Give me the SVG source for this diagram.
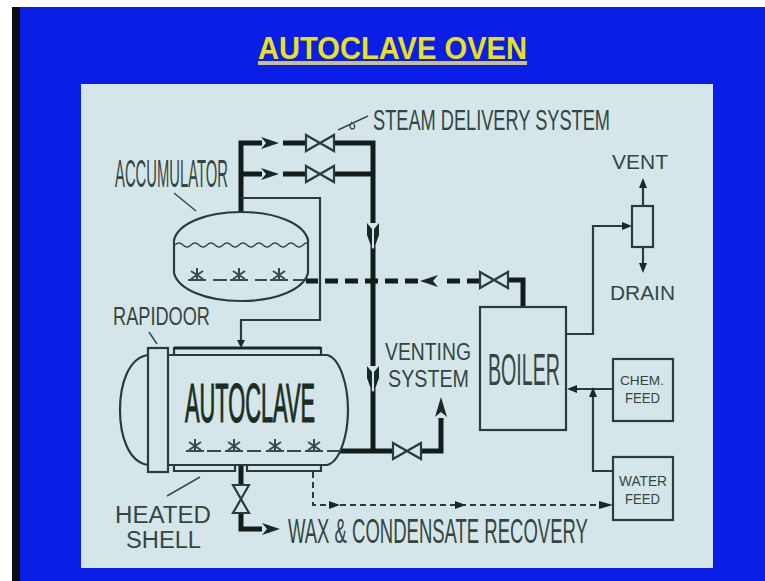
<svg xmlns="http://www.w3.org/2000/svg" width="765" height="581" viewBox="0 0 765 581">
<style>
.t{font-family:"Liberation Sans",Arial,sans-serif;fill:#34463f}
.ln{fill:none;stroke:#2c3a38;stroke-width:2.2}
.thin{fill:none;stroke:#3a4a48;stroke-width:1.5}
.thk{fill:none;stroke:#141c1a;stroke-width:5}
.dash{fill:none;stroke:#141c1a;stroke-width:5;stroke-dasharray:13 7}
.ds{fill:none;stroke:#2c3a38;stroke-width:2;stroke-dasharray:6 4}
.v{fill:#d5e6ea;stroke:#2c3a38;stroke-width:2.2}
.a{fill:#1c2826}
.sp{fill:none;stroke:#3a4a48;stroke-width:2}
</style>
<defs>
<g id="valve"><path class="v" d="M-14,-8 L14,8 L14,-8 L-14,8 Z"/></g>
<g id="star"><path class="sp" d="M-9,5 H9 M0,4 V-7 M-6,-4 L6,4 M6,-4 L-6,4"/></g>
<g id="head"><path class="a" d="M-9,-6 L9,0 L-9,6 L-4,0 Z"/></g>
<g id="vhead"><path fill="#d5e6ea" d="M-3,-12 H3 V10 L0,14 L-3,10 Z"/><path class="a" d="M-6,-12 L-1,-6 V14 L-6,0 Z M6,-12 L1,-6 V14 L6,0 Z"/></g>
</defs>
<rect width="765" height="581" fill="#fff"/>
<rect x="12" y="7" width="753" height="574" fill="#0a1ee8"/>
<rect x="12" y="7" width="8" height="574" fill="#0c0e14"/>
<rect x="81" y="84" width="632" height="484" fill="#d5e6ea"/>
<text x="258" y="59" font-size="32" font-weight="700" textLength="269" lengthAdjust="spacingAndGlyphs" style="font-family:'Liberation Sans',Arial,sans-serif;fill:#e8e020">AUTOCLAVE OVEN</text>
<rect x="258" y="61" width="269" height="4" fill="#c9c28a"/>
<g id="connectors">
<path class="thk" d="M241,212 V143 H262 M283,143 H307 M334,143 H373 V450 M241,174 H262 M283,174 H307 M334,174 H373"/>
<path class="thk" d="M340,451 H393 M421,451 H441 V418"/>
<path class="thk" d="M241,465 V485 M241,513 V529 H262"/>
<path class="thk" d="M508,280 H523 V307"/>
<path class="dash" d="M480,281 H442 M418,281 H306"/>
<path class="ln" d="M241,198 H320 V320 H241 V340"/>
<path class="ln" d="M566,334 H593 V226 H624"/>
<path class="ln" d="M643,206 V186 M643,247 V265"/>
<path class="ln" d="M613,389 H575 M613,471 H593 V396"/>
<path class="ds" d="M313,472 V505 H600"/>
<use href="#head" x="270" y="143"/><use href="#head" x="270" y="174"/>
<use href="#vhead" x="373" y="235"/><use href="#vhead" x="373" y="378"/>
<use href="#head" transform="translate(271,529)"/>
<use href="#head" transform="translate(429,281) rotate(180)"/>
<path class="a" d="M441,397 L447,417 L441,412 L435,417 Z"/>
<path class="a" d="M241,348 L237,340 H245 Z"/>
<path class="a" d="M632,226 L622,222 V230 Z"/>
<path class="a" d="M643,178 L639,188 H647 Z M643,273 L639,263 H647 Z"/>
<path class="a" d="M567,389 L577,385 V393 Z M593,387 L589,397 H597 Z"/>
<path class="a" d="M340,505 L329,501 V509 Z M466,505 L455,501 V509 Z M613,505 L599,501 V509 Z"/>
<use href="#valve" x="320" y="143"/><use href="#valve" x="320" y="174"/>
<use href="#valve" x="494" y="280"/><use href="#valve" x="407" y="451"/>
<use href="#valve" transform="translate(241,499) rotate(90)"/>
</g>
<g id="accumulator">
<path class="ln" d="M174,240 C178,224 205,212 241,212 C277,212 304,224 308,240 V273 C304,289 277,301 241,301 C205,301 178,289 174,273 Z"/>
<path class="thin" d="M175,245 q4,-4 8,0 t8,0 t8,0 t8,0 t8,0 t8,0 t8,0 t8,0 t8,0 t8,0 t8,0 t8,0 t8,0 t8,0 t8,0 t8,0 t5,0"/>
<use href="#star" x="197" y="275"/><use href="#star" x="239" y="275"/><use href="#star" x="279" y="275"/>
<path class="sp" d="M213,280 H227 M255,280 H267 M293,280 H306"/>
<text class="t" x="115" y="187" font-size="38" textLength="113" lengthAdjust="spacingAndGlyphs">ACCUMULATOR</text>
<path class="thin" d="M174,193 L196,211"/>
</g>
<g id="autoclave">
<path class="ln" d="M148,355 C128,358 120,385 120,410 C120,435 128,462 148,465 M168,355 H327 C340,358 348,385 348,410 C348,435 340,462 327,465 H168"/>
<rect class="ln" x="148" y="348" width="20" height="124"/>
<path class="ln" d="M174,355 V348 H321 V355 M174,465 V471 H235 V465 M247,465 V471 H321 V465"/>
<path d="M174,348 H321" stroke="#1c2826" stroke-width="3" fill="none"/>
<use href="#star" x="195" y="446"/><use href="#star" x="234" y="446"/><use href="#star" x="275" y="446"/><use href="#star" x="314" y="446"/>
<path class="sp" d="M207,451 H221 M247,451 H261 M287,451 H301 M327,451 H340"/>
<text font-size="55" transform="translate(185,422) scale(.404,1)" textLength="322" lengthAdjust="spacingAndGlyphs" style="font-family:'Liberation Sans',Arial,sans-serif;fill:#1c2e22;stroke:#1c2e22;stroke-width:1.2">AUTOCLAVE</text>
</g>
<g id="boiler">
<rect class="ln" x="480" y="307" width="86" height="123"/>
<text class="t" font-size="45" transform="translate(488,385) scale(.436,1)" textLength="165" lengthAdjust="spacingAndGlyphs">BOILER</text>
</g>
<g id="vent"><rect class="ln" x="632" y="206" width="21" height="41"/></g>
<g id="chem-feed">
<rect class="ln" x="613" y="359" width="60" height="62"/>
<text class="t" x="620" y="385" font-size="13" textLength="44" lengthAdjust="spacingAndGlyphs">CHEM.</text>
<text class="t" x="625" y="403" font-size="14" textLength="35" lengthAdjust="spacingAndGlyphs">FEED</text>
</g>
<g id="water-feed">
<rect class="ln" x="613" y="457" width="60" height="63"/>
<text class="t" x="619" y="486" font-size="14" textLength="48" lengthAdjust="spacingAndGlyphs">WATER</text>
<text class="t" x="625" y="504" font-size="14" textLength="35" lengthAdjust="spacingAndGlyphs">FEED</text>
</g>
<g id="labels">
<text class="t" x="373" y="130" font-size="29" textLength="237" lengthAdjust="spacingAndGlyphs">STEAM DELIVERY SYSTEM</text>
<path class="thin" d="M338,130 L368,116 M352,122 q-4,5 0,7 q4,0 2,-5"/>
<text class="t" x="612" y="169" font-size="21" textLength="56" lengthAdjust="spacingAndGlyphs">VENT</text>
<text class="t" x="610" y="300" font-size="21" textLength="65" lengthAdjust="spacingAndGlyphs">DRAIN</text>
<text class="t" x="113" y="325" font-size="26" textLength="97" lengthAdjust="spacingAndGlyphs">RAPIDOOR</text>
<path class="thin" d="M149,332 L157,344"/>
<text class="t" x="385" y="360" font-size="23" textLength="86" lengthAdjust="spacingAndGlyphs">VENTING</text>
<text class="t" x="388" y="387" font-size="24" textLength="81" lengthAdjust="spacingAndGlyphs">SYSTEM</text>
<text class="t" x="115" y="523" font-size="23" textLength="96" lengthAdjust="spacingAndGlyphs">HEATED</text>
<text class="t" x="126" y="548" font-size="23" textLength="75" lengthAdjust="spacingAndGlyphs">SHELL</text>
<path class="thin" d="M167,496 L200,477"/>
<text class="t" font-size="35" transform="translate(288,543) scale(.58,1)" textLength="517" lengthAdjust="spacingAndGlyphs">WAX &amp; CONDENSATE RECOVERY</text>
</g>
</svg>
